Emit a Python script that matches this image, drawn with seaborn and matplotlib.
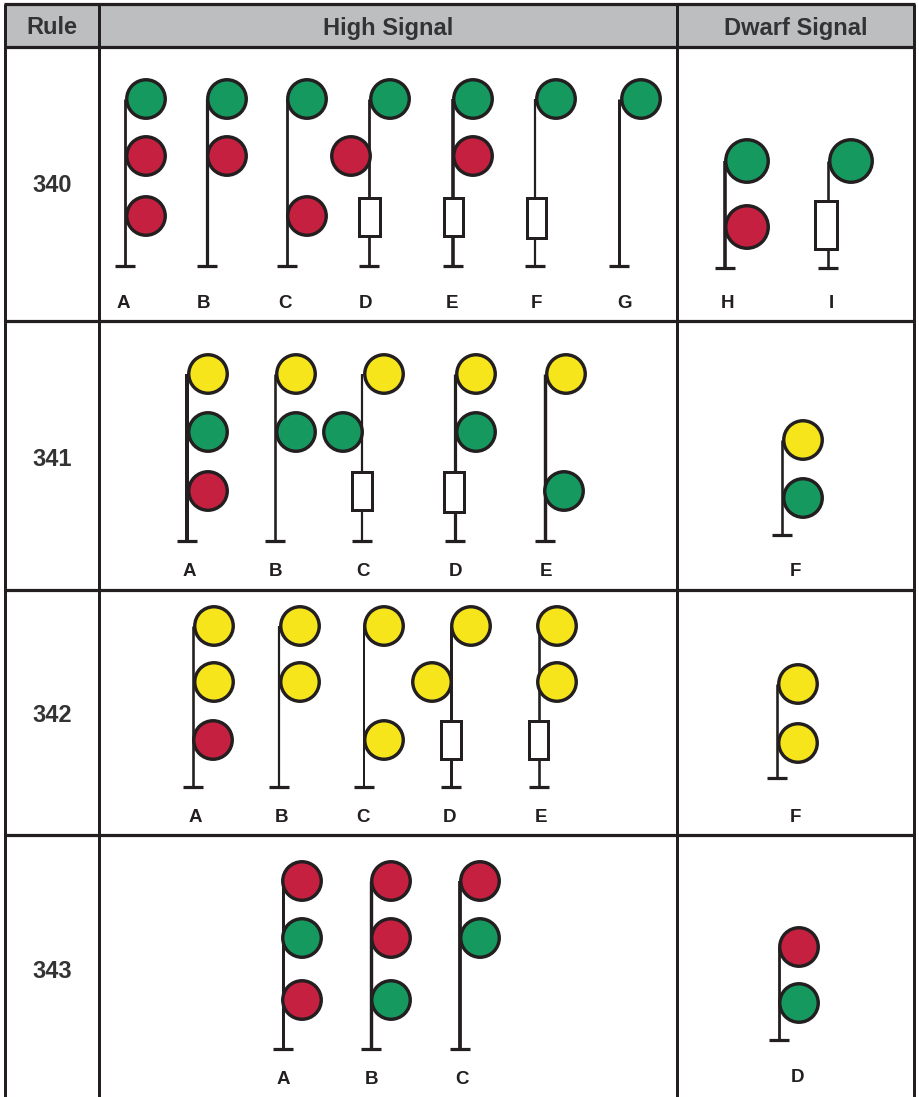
import matplotlib
matplotlib.use("Agg")
import matplotlib.pyplot as plt
import pandas as pd
import seaborn as sns

# header and rule labels
headers = ["Rule", "High Signal", "Dwarf Signal"]
header_x = [52, 388, 796]
rules = ["340", "341", "342", "343"]
rule_y = [184, 458, 714, 969]

# one entry per signal post
post_label = ["A", "B", "C", "D", "E", "F", "G", "H", "I",
              "A", "B", "C", "D", "E", "F",
              "A", "B", "C", "D", "E", "F",
              "A", "B", "C", "D"]
post_x = [125, 207, 287, 369, 453, 535, 619, 725, 828,
          187, 275, 362, 455, 545, 782,
          193, 279, 364, 451, 539, 777,
          283, 371, 460, 779]
post_top = [99, 99, 99, 99, 99, 99, 99, 161, 161,
            374, 374, 374, 374, 374, 440,
            626, 626, 626, 626, 626, 684,
            881, 881, 881, 947]
post_base = [266, 266, 266, 266, 266, 266, 266, 268, 268,
             541, 541, 541, 541, 541, 535,
             787, 787, 787, 787, 787, 778,
             1049, 1049, 1049, 1040]
post_weight = [2.8, 3.2, 2.8, 2.8, 3.6, 2.2, 3.0, 3.6, 2.6,
               4.0, 2.6, 2.2, 3.2, 3.4, 2.6,
               2.6, 2.2, 2.0, 3.0, 2.6, 2.6,
               3.0, 3.4, 3.8, 2.8]
label_x = [123, 204, 285, 366, 452, 536, 624, 727, 831,
           189, 276, 363, 455, 546, 795,
           195, 281, 363, 449, 541, 795,
           283, 371, 462, 798]
label_y = [303] * 9 + [570] * 6 + [816] * 6 + [1079] * 3 + [1077]

# dummy lamp boxes
box_x = [369, 453, 536, 826, 362, 454, 451, 538]
box_top = [198, 198, 198, 201, 472, 472, 721, 721]
box_bottom = [236, 236, 238, 249, 510, 512, 759, 759]
box_width = [21, 19, 19, 22, 20, 20, 20, 19]

# lamps
lamp_x = [146, 146, 146, 227, 227, 307, 307, 390, 351, 473, 473, 556, 641, 747, 747, 851,
          208, 208, 208, 296, 296, 384, 343, 476, 476, 566, 564, 803, 803,
          214, 214, 213, 300, 300, 384, 384, 471, 432, 557, 557, 798, 798,
          302, 302, 302, 391, 391, 391, 480, 480, 799, 799]
lamp_y = [99, 156, 216, 99, 156, 99, 216, 99, 156, 99, 156, 99, 99, 161, 227, 161,
          374, 432, 491, 374, 432, 374, 432, 374, 432, 374, 491, 440, 498,
          626, 682, 740, 626, 682, 626, 740, 626, 682, 626, 682, 684, 743,
          881, 938, 1000, 881, 938, 1000, 881, 938, 947, 1003]
lamp_aspect = ["G", "R", "R", "G", "R", "G", "R", "G", "R", "G", "R", "G", "G", "G", "R", "G",
               "Y", "G", "R", "Y", "G", "Y", "G", "Y", "G", "Y", "G", "Y", "G",
               "Y", "Y", "R", "Y", "Y", "Y", "Y", "Y", "Y", "Y", "Y", "Y", "Y",
               "R", "G", "R", "R", "R", "G", "R", "G", "R", "G"]
lamp_size = ["n"] * 13 + ["L"] * 3 + ["n"] * 36

colors = {"G": "#16995f", "R": "#c5203f", "Y": "#f6e51b"}
ink = "#231f20"
px = 72 / 100  # one pixel in points

sns.set_theme(style="white")
plt.rcParams["font.family"] = ["Liberation Sans", "DejaVu Sans"]

fig = plt.figure(figsize=(9.19, 10.97), dpi=100)
ax = fig.add_axes([0, 0, 1, 1])
ax.set_xlim(0, 919)
ax.set_ylim(1097, 0)
ax.axis("off")

# table
ax.fill_between([5, 914], 5, 47, color="#bcbec0", lw=0, zorder=0)
ax.hlines([4, 47, 321, 590, 835], 4, 915, color=ink, lw=3.2 * px, zorder=1)
ax.hlines(1096.5, 4, 915, color="#777777", lw=1 * px, zorder=1)
ax.vlines([5, 99, 677, 914], 4, 1097, color=ink, lw=3.0 * px, zorder=1)

for name, x in zip(headers, header_x):
    ax.text(x, 28, name, ha="center", va="center", fontsize=17, fontweight="bold", color="#333333")
for name, y in zip(rules, rule_y):
    ax.text(52, y + 2, name, ha="center", va="center", fontsize=17, fontweight="bold", color="#333333")

# posts
for x, top, base, w in zip(post_x, post_top, post_base, post_weight):
    ax.plot([x, x], [top, base], color=ink, lw=w * px, zorder=2, solid_capstyle="butt")
    ax.plot([x - 10, x + 10], [base, base], color=ink, lw=3.2 * px, zorder=2, solid_capstyle="butt")

ax.bar(box_x, [b - t for t, b in zip(box_top, box_bottom)], width=box_width, bottom=box_top,
       color="white", edgecolor=ink, linewidth=3 * px, zorder=3)

lamps = pd.DataFrame({"x": lamp_x, "y": lamp_y, "aspect": lamp_aspect, "kind": lamp_size})
sns.scatterplot(data=lamps, x="x", y="y", hue="aspect", palette=colors, size="kind",
                sizes={"n": (38.5 * px) ** 2, "L": (42.5 * px) ** 2}, edgecolor=ink,
                linewidth=3.4 * px, legend=False, zorder=4, ax=ax)
ax.set_xlim(0, 919)
ax.set_ylim(1097, 0)

for name, x, y in zip(post_label, label_x, label_y):
    ax.text(x, y + 1, name, ha="center", va="center", fontsize=13.5, fontweight="bold", color=ink)

fig.savefig("out.png", dpi=100)
